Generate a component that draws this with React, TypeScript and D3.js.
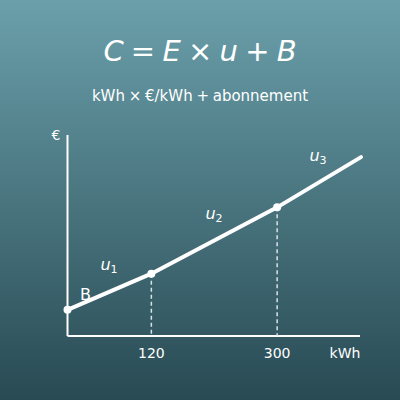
import { useEffect, useRef } from "react";
import * as d3 from "d3";

// consumption breakpoints (kWh) and cost (€, arbitrary units)
const kwh = [0, 120, 300, 420];
const cost = [13, 31, 64, 89];
const xTicks = [120, 300];
const segmentLabels = ["u_1", "u_2", "u_3"];

export default function App() {
  const svgRef = useRef<SVGSVGElement | null>(null);

  useEffect(() => {
    document.body.style.margin = "0";
    const svgElement = svgRef.current;
    if (!svgElement) return;

    const width = 400;
    const height = 400;
    const svg = d3.select(svgElement);
    svg.selectAll("*").remove();
    svg.attr("viewBox", `0 0 ${width} ${height}`);

    const defs = svg.append("defs");
    const grad = defs
      .append("linearGradient")
      .attr("id", "bg")
      .attr("x1", 0)
      .attr("y1", 0)
      .attr("x2", 0)
      .attr("y2", 1);
    grad.append("stop").attr("offset", "0%").attr("stop-color", "#6ba0ab");
    grad.append("stop").attr("offset", "100%").attr("stop-color", "#284a53");

    svg.append("rect").attr("width", width).attr("height", height).attr("fill", "url(#bg)");

    const font = "DejaVu Sans, sans-serif";

    svg
      .append("text")
      .attr("x", 200)
      .attr("y", 61)
      .attr("text-anchor", "middle")
      .attr("font-family", font)
      .attr("font-style", "italic")
      .attr("font-size", 29)
      .attr("fill", "#ffffff")
      .text("C\u2005=\u2005E\u2005×\u2005u\u2005+\u2005B");

    svg
      .append("text")
      .attr("x", 200)
      .attr("y", 101)
      .attr("text-anchor", "middle")
      .attr("font-family", font)
      .attr("font-size", 15)
      .attr("fill", "#ffffff")
      .text("kWh\u2005×\u2005€/kWh\u2005+\u2005abonnement");

    const x = d3.scaleLinear().domain([0, 420]).range([67.5, 361]);
    const y = d3.scaleLinear().domain([0, 100]).range([336, 135]);

    // axes
    svg
      .append("line")
      .attr("x1", x(0))
      .attr("x2", x(0))
      .attr("y1", y(0))
      .attr("y2", y(100))
      .attr("stroke", "#fff")
      .attr("stroke-width", 2);
    svg
      .append("line")
      .attr("x1", x(0))
      .attr("x2", 360)
      .attr("y1", y(0))
      .attr("y2", y(0))
      .attr("stroke", "#fff")
      .attr("stroke-width", 2);

    svg
      .append("text")
      .attr("x", 56)
      .attr("y", 140)
      .attr("text-anchor", "middle")
      .attr("font-family", font)
      .attr("font-size", 14)
      .attr("fill", "#fff")
      .text("€");

    // dashed guides
    xTicks.forEach((t) => {
      const i = kwh.indexOf(t);
      svg
        .append("line")
        .attr("x1", x(t))
        .attr("x2", x(t))
        .attr("y1", y(cost[i]))
        .attr("y2", y(0))
        .attr("stroke", "#d8e4e6")
        .attr("stroke-width", 1.5)
        .attr("stroke-dasharray", "4,3");
      svg
        .append("text")
        .attr("x", x(t))
        .attr("y", 358)
        .attr("text-anchor", "middle")
        .attr("font-family", font)
        .attr("font-size", 14)
        .attr("fill", "#fff")
        .text(String(t));
    });

    svg
      .append("text")
      .attr("x", 345)
      .attr("y", 358)
      .attr("text-anchor", "middle")
      .attr("font-family", font)
      .attr("font-size", 14)
      .attr("fill", "#fff")
      .text("kWh");

    const pts = kwh.map((k, i) => [x(k), y(cost[i])] as [number, number]);
    svg
      .append("path")
      .attr("d", d3.line()(pts))
      .attr("fill", "none")
      .attr("stroke", "#fff")
      .attr("stroke-width", 4)
      .attr("stroke-linecap", "round");

    pts.slice(0, 3).forEach(([px, py]) => {
      svg.append("circle").attr("cx", px).attr("cy", py).attr("r", 4).attr("fill", "#fff");
    });

    svg
      .append("text")
      .attr("x", 80)
      .attr("y", 300)
      .attr("font-family", font)
      .attr("font-size", 16)
      .attr("fill", "#fff")
      .text("B");

    const labelPos = [
      [109, 270],
      [214, 219],
      [318, 161],
    ];
    segmentLabels.forEach((lab, i) => {
      const [base, sub] = lab.split("_");
      const t = svg
        .append("text")
        .attr("x", labelPos[i][0])
        .attr("y", labelPos[i][1])
        .attr("text-anchor", "middle")
        .attr("font-family", font)
        .attr("fill", "#fff");
      t.append("tspan").attr("font-style", "italic").attr("font-size", 16).text(base);
      t.append("tspan").attr("font-size", 11).attr("dy", 3).text(sub);
    });
  }, []);

  return (
    <div style={{ width: 400, height: 400 }}>
      <svg ref={svgRef} width={400} height={400} style={{ display: "block" }} />
    </div>
  );
}
